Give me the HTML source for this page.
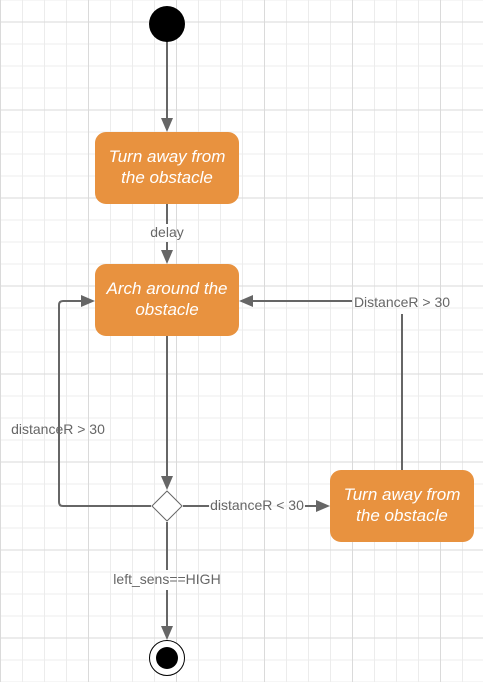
<!DOCTYPE html>
<html><head><meta charset="utf-8"><style>
html,body{margin:0;padding:0;background:#fff}
svg{display:block}
text{font-family:"Liberation Sans",sans-serif}
</style></head><body>
<svg width="483" height="682" viewBox="0 0 483 682" xmlns="http://www.w3.org/2000/svg">
<defs>
<pattern id="g" x="0" y="-0.5" width="22" height="22" patternUnits="userSpaceOnUse">
<path d="M0.5 0V22M0 0.5H22" stroke="#ececec" stroke-width="1" fill="none"/>
</pattern>
<pattern id="G" x="0" y="-0.5" width="88" height="88" patternUnits="userSpaceOnUse">
<path d="M0.5 0V88M0 22.5H88" stroke="#dadada" stroke-width="1" fill="none"/>
</pattern>
</defs>
<rect width="483" height="682" fill="url(#g)"/>
<rect width="483" height="682" fill="url(#G)"/>
<g stroke="#666" stroke-width="2" fill="none">
<path d="M167 40V118"/>
<path d="M167 204V224M167 242V250"/>
<path d="M167 336V476"/>
<path d="M151 506H63Q59 506 59 502V305Q59 301 63 301H81"/>
<path d="M183 506H209M305 506H316"/>
<path d="M402 470V314M352 301H253"/>
<path d="M167 522V570M167 590V626"/>
</g>
<g fill="#666">
<path d="M161 118H173L167 132Z"/>
<path d="M161 250H173L167 264Z"/>
<path d="M161 476H173L167 490Z"/>
<path d="M81 295V307L95 301Z"/>
<path d="M316 500V512L330 506Z"/>
<path d="M253 295V307L239 301Z"/>
<path d="M161 626H173L167 640Z"/>
</g>
<circle cx="167" cy="24" r="18" fill="#000"/>
<circle cx="167" cy="658" r="17.5" fill="#fff" stroke="#000" stroke-width="1"/>
<circle cx="167" cy="658" r="11" fill="#000"/>
<path d="M167 491L182 506L167 521L152 506Z" fill="#fff" stroke="#666" stroke-width="1" stroke-linejoin="round"/>
<g fill="#E8923F">
<rect x="95" y="132" width="144" height="72" rx="11"/>
<rect x="95" y="264" width="144" height="72" rx="11"/>
<rect x="330" y="470" width="144" height="72" rx="11"/>
</g>
<g fill="#fff" font-size="17" font-style="italic" text-anchor="middle">
<text x="167" y="162">Turn away from</text>
<text x="167" y="183">the obstacle</text>
<text x="167" y="294">Arch around the</text>
<text x="167" y="315">obstacle</text>
<text x="402" y="500">Turn away from</text>
<text x="402" y="521">the obstacle</text>
</g>
<g fill="#666" font-size="14" text-anchor="middle">
<text x="167" y="237">delay</text>
<text x="402" y="307">DistanceR &gt; 30</text>
<text x="58" y="434">distanceR &gt; 30</text>
<text x="257" y="510">distanceR &lt; 30</text>
<text x="167" y="584">left_sens==HIGH</text>
</g>
</svg>
</body></html>
